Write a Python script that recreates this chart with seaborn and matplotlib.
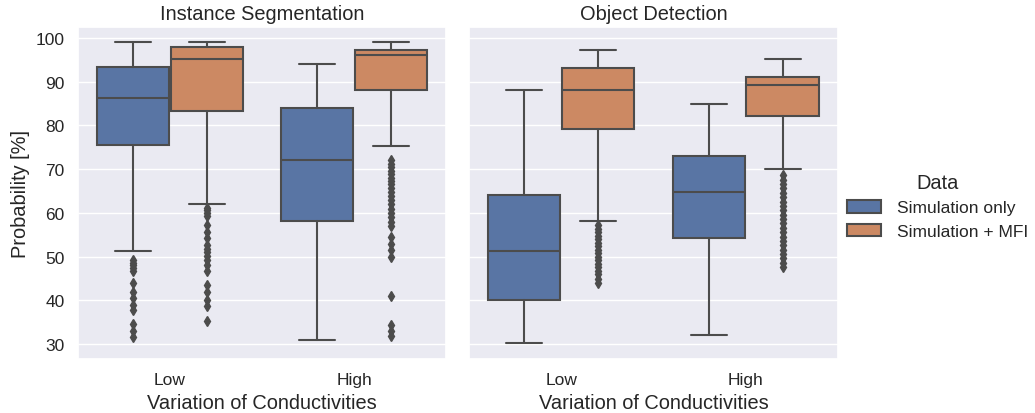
import colorsys
import matplotlib
matplotlib.use("Agg")
import matplotlib.pyplot as plt
from matplotlib.patches import Patch
import seaborn as sns

# Facets, categories and hue groups
tasks = ["Instance Segmentation", "Object Detection"]
levels = ["Low", "High"]
groups = ["Simulation only", "Simulation + MFI"]

# Box statistics, ordered task -> level -> group
whishi = [99.0, 99.0, 94.0, 99.0, 88.2, 97.2, 85.0, 95.1]
q3 = [93.3, 98.0, 84.1, 97.2, 64.2, 93.1, 73.1, 91.0]
med = [86.2, 95.2, 72.2, 96.2, 51.3, 88.2, 64.7, 89.2]
q1 = [75.6, 83.3, 58.2, 88.1, 40.1, 79.3, 54.2, 82.1]
whislo = [51.2, 62.0, 31.0, 75.2, 30.3, 58.2, 32.2, 70.0]
fliers = [
    [49.3, 48.6, 48.0, 47.4, 46.8, 43.9, 42.0, 40.5, 39.0, 37.7, 34.6, 33.0, 31.6],
    [61.2, 60.6, 60.0, 59.4, 57.2, 55.6, 54.3, 52.6, 51.8, 51.0, 50.2, 49.3,
     48.2, 46.8, 43.5, 42.0, 40.2, 38.8, 35.2],
    [],
    [72.2, 71.2, 70.4, 69.6, 68.9, 68.0, 67.2, 66.5, 65.7, 64.8, 63.9, 63.0,
     62.0, 61.0, 60.0, 59.0, 58.0, 57.0, 54.6, 53.0, 51.5, 50.0, 41.0, 34.4,
     33.0, 31.8],
    [],
    [57.2, 56.4, 55.6, 54.8, 54.0, 53.2, 52.4, 51.6, 50.8, 50.0, 49.2, 48.4,
     47.6, 46.8, 46.0, 45.0, 44.0],
    [],
    [68.6, 67.6, 66.6, 65.6, 64.6, 63.6, 62.6, 61.6, 60.6, 59.6, 58.6, 57.6,
     56.6, 55.6, 54.6, 53.6, 52.6, 51.6, 50.6, 49.6, 48.6, 47.6],
]
yticks = [30, 40, 50, 60, 70, 80, 90, 100]

sns.set_theme(style="darkgrid")
plt.rcParams["font.family"] = ["Liberation Sans", "DejaVu Sans"]

base = sns.color_palette("deep", len(groups))
colors = [sns.desaturate(c, 0.75) for c in base]
lum = min(colorsys.rgb_to_hls(*c)[1] for c in base) * 0.6
gray = (lum, lum, lum)

fig = plt.figure(figsize=(10.35, 4.14), dpi=100)
axes = [
    fig.add_axes([0.0754, 0.1304, 0.3556, 0.8019]),
    fig.add_axes([0.4531, 0.1304, 0.3565, 0.8019]),
]

width = 0.8 / len(groups) * 0.98
offsets = [-0.2, 0.2]
lw = 1.5
tick_fs, label_fs, legend_fs = 12.5, 14.4, 12.5

k = 0
for t, ax in enumerate(axes):
    for li, lev in enumerate(levels):
        for gi, grp in enumerate(groups):
            stats = [dict(med=med[k], q1=q1[k], q3=q3[k], whislo=whislo[k],
                          whishi=whishi[k], fliers=fliers[k], label=grp)]
            ax.bxp(
                stats, positions=[li + offsets[gi]], widths=[width],
                patch_artist=True, manage_ticks=False,
                boxprops=dict(facecolor=colors[gi], edgecolor=gray, linewidth=lw),
                whiskerprops=dict(color=gray, linewidth=lw),
                capprops=dict(color=gray, linewidth=lw),
                medianprops=dict(color=gray, linewidth=lw),
                flierprops=dict(marker="d", markersize=5, markerfacecolor=gray,
                                markeredgecolor=gray, linestyle="none"),
            )
            k += 1
    ax.set_xlim(-0.5, len(levels) - 0.5)
    ax.set_ylim(26.6, 102.5)
    ax.set_xticks(range(len(levels)))
    ax.set_xticklabels(levels, fontsize=tick_fs)
    ax.set_yticks(yticks)
    ax.tick_params(axis="y", labelsize=tick_fs)
    ax.set_xlabel("Variation of Conductivities", fontsize=label_fs)
    ax.set_title(tasks[t], fontsize=label_fs)
    ax.grid(axis="x", visible=False)

axes[0].set_ylabel("Probability [%]", fontsize=label_fs)
axes[1].tick_params(axis="y", labelleft=False)

handles = [Patch(facecolor=colors[i], edgecolor=gray, linewidth=lw, label=g)
           for i, g in enumerate(groups)]
leg = fig.legend(handles=handles, title="Data", loc="center left",
                 bbox_to_anchor=(0.803, 0.5), frameon=False, fontsize=legend_fs,
                 title_fontsize=label_fs, handletextpad=0.9)

fig.savefig("out.png", dpi=100)
